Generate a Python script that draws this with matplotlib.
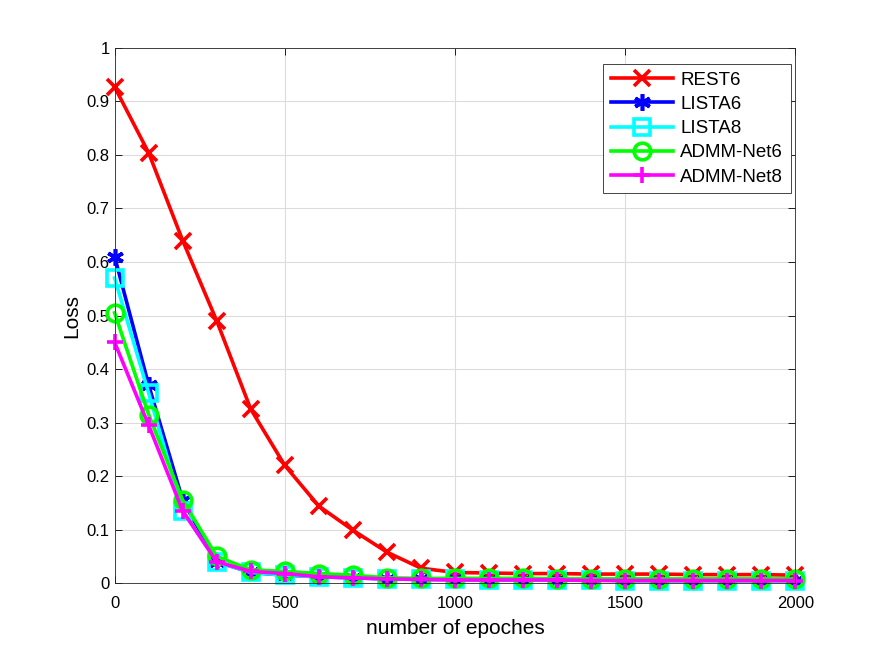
import numpy as np
import matplotlib
matplotlib.use('Agg')
import matplotlib.pyplot as plt

plt.rcParams['font.family'] = ['Liberation Sans', 'DejaVu Sans']

epochs = np.arange(0, 2001, 100)

rest6 = [0.927, 0.804, 0.640, 0.490, 0.325, 0.220, 0.144, 0.099, 0.058, 0.028, 0.020,
         0.019, 0.018, 0.018, 0.017, 0.017, 0.017, 0.016, 0.016, 0.016, 0.015]
lista6 = [0.610, 0.370, 0.155, 0.040, 0.020, 0.015, 0.012, 0.010, 0.008, 0.007, 0.007,
          0.006, 0.006, 0.006, 0.006, 0.005, 0.005, 0.005, 0.005, 0.005, 0.005]
lista8 = [0.570, 0.355, 0.135, 0.040, 0.020, 0.015, 0.012, 0.010, 0.008, 0.007, 0.007,
          0.006, 0.006, 0.006, 0.006, 0.005, 0.005, 0.005, 0.005, 0.005, 0.005]
admm6 = [0.505, 0.315, 0.155, 0.050, 0.025, 0.022, 0.018, 0.015, 0.010, 0.009, 0.009,
         0.009, 0.009, 0.008, 0.008, 0.008, 0.008, 0.008, 0.008, 0.008, 0.008]
admm8 = [0.450, 0.295, 0.135, 0.040, 0.022, 0.018, 0.012, 0.010, 0.008, 0.007, 0.006,
         0.006, 0.006, 0.006, 0.005, 0.005, 0.005, 0.005, 0.005, 0.005, 0.005]

series = [
    (rest6, 'REST6', '#ff0000', 'x', dict()),
    (lista6, 'LISTA6', '#0000ff', (6, 2, 0), dict()),
    (lista8, 'LISTA8', '#00ffff', 's', dict(markerfacecolor='none')),
    (admm6, 'ADMM-Net6', '#00ff00', 'o', dict(markerfacecolor='none')),
    (admm8, 'ADMM-Net8', '#ff00ff', '+', dict()),
]

fig = plt.figure(figsize=(8.75, 6.56), dpi=100)
ax = fig.add_axes([0.131, 0.111, 0.778, 0.816])

for vals, name, col, mk, extra in series:
    ax.plot(epochs, vals, color=col, lw=2.6, marker=mk, markersize=12,
            markeredgewidth=2.6, label=name, clip_on=False, **extra)

ax.set_xlim(0, 2000)
ax.set_ylim(0, 1)
ax.set_xticks(np.arange(0, 2001, 500))
ax.set_yticks(np.arange(0, 1.01, 0.1))
ax.set_yticklabels(['0', '0.1', '0.2', '0.3', '0.4', '0.5', '0.6', '0.7', '0.8', '0.9', '1'])
ax.grid(True, color='#dcdcdc', lw=0.8)
ax.set_axisbelow(True)
ax.tick_params(direction='in', labelsize=12, length=5, top=True, right=True, width=0.6)
ax.tick_params(axis='x', pad=9)
for s in ax.spines.values():
    s.set_linewidth(0.6)
    s.set_color('#262626')
ax.set_xlabel('number of epoches', fontsize=15, labelpad=6)
ax.set_ylabel('Loss', fontsize=15)

leg = ax.legend(loc='upper right', bbox_to_anchor=(0.993, 0.97), fontsize=13.5,
                fancybox=False, edgecolor='#262626', framealpha=1,
                handlelength=3.3, borderpad=0.4, labelspacing=0.38,
                handletextpad=0.4, borderaxespad=0)
leg.get_frame().set_linewidth(0.6)
leg.set_zorder(5)

fig.savefig('out.png', dpi=100)
